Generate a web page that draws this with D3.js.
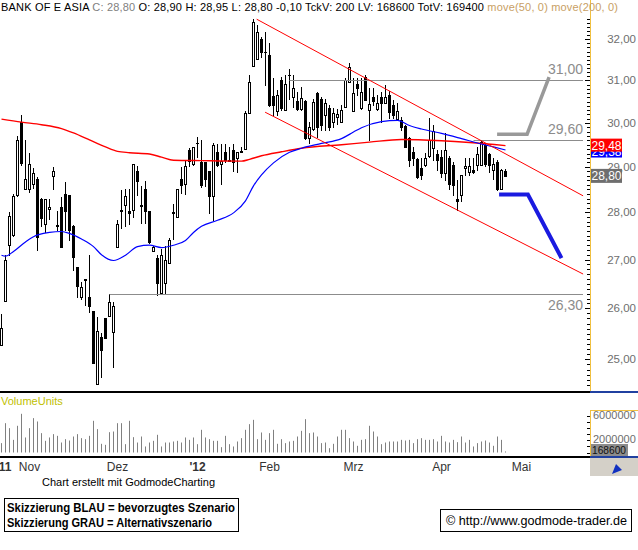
<!DOCTYPE html>
<html><head><meta charset="utf-8">
<script src="https://cdn.jsdelivr.net/npm/d3@7"></script>
<style>
body{margin:0;background:#fff}
svg{display:block}
text{font-family:"Liberation Sans",Arial,sans-serif}
</style>
</head><body>
<svg id="c" width="638" height="550"></svg>
<script>
// ---------------- DATA ----------------
const opens  = [25.28,26.16,27.31,27.51,28.37,30.02,28.52,28.52,28.63,28.74,28.30,27.76,28.07,28.80,27.72,28.11,28.40,28.37,27.70,26.85,
                26.24,26.59,26.23,25.95,24.52,25.43,25.81,25.84,25.53,27.27,28.03,28.17,28.04,28.05,28.91,28.15,28.51,28.02,27.17,27.04,
                26.32,26.51,26.92,28.00,27.91,28.74,28.63,29.39,29.06,29.55,29.12,29.12,28.90,28.36,29.33,29.06,29.33,29.16,29.39,29.20,
                29.36,29.41,30.23,31.35,31.52,32.00,31.70,31.61,30.63,30.28,31.01,30.31,31.13,30.61,30.52,30.32,30.52,29.66,29.87,30.69,
                30.56,30.19,30.35,30.03,30.14,30.03,30.38,30.97,30.28,30.91,30.35,31.08,30.30,30.60,30.32,30.60,30.47,30.65,30.42,30.10,
                30.07,29.93,29.65,29.33,29.18,28.97,29.05,29.24,29.42,29.28,29.23,28.87,29.20,29.05,28.29,28.38,28.97,28.88,28.93,29.05,
                29.05,29.50,29.28,28.93,29.12,28.50,28.90];
const highs  = [25.88,27.10,28.01,28.39,29.70,30.18,29.61,29.31,28.97,28.77,28.31,28.30,28.30,28.99,28.03,28.34,28.67,28.37,27.72,26.85,
                26.53,26.59,27.10,25.95,25.83,25.51,25.81,26.30,26.12,27.83,28.49,28.51,28.51,29.06,29.02,28.58,28.69,28.02,27.29,27.10,
                27.21,27.29,27.45,28.18,28.50,28.99,29.16,29.42,29.46,29.68,29.61,29.12,28.90,29.53,29.52,29.52,29.52,29.46,29.52,29.33,
                29.45,30.27,31.13,32.50,32.36,32.06,32.19,31.91,31.06,30.78,31.09,31.13,31.27,31.14,30.73,30.84,30.54,30.02,30.56,30.73,
                30.61,30.56,30.42,30.34,30.33,30.42,31.05,31.41,31.05,31.05,31.05,31.14,30.83,30.83,30.65,30.72,30.88,30.74,30.54,30.46,
                30.14,29.95,29.68,29.44,29.20,29.20,29.31,30.11,29.95,29.38,29.38,29.77,29.24,29.10,28.71,28.82,29.20,29.20,29.20,29.46,
                29.61,29.54,29.31,29.20,29.16,28.95,28.95];
const lows   = [25.28,26.16,27.10,27.49,28.35,29.05,28.52,28.45,28.53,27.20,27.70,27.59,27.86,28.52,27.63,27.27,27.62,27.41,26.78,26.23,
                26.20,26.06,25.93,24.93,24.52,24.67,25.41,25.84,24.86,27.27,27.66,27.70,27.76,27.90,28.38,27.77,27.77,27.35,27.17,26.28,
                26.30,26.32,26.92,27.43,27.90,28.42,28.40,29.02,29.05,29.23,28.56,28.57,27.98,27.84,29.03,28.63,29.12,29.13,28.90,28.88,
                29.33,29.40,30.22,31.35,31.52,31.57,30.89,30.40,30.19,30.18,30.30,30.30,30.57,30.38,30.30,30.30,29.63,29.53,29.84,29.67,
                29.84,29.84,29.84,29.91,29.98,30.03,30.37,30.96,30.28,30.65,30.33,30.53,29.61,30.42,30.30,30.03,30.46,30.11,30.12,30.09,
                29.84,29.45,29.02,29.05,28.76,28.74,29.01,29.23,29.16,28.93,28.77,28.71,28.52,28.38,28.05,28.25,28.81,28.81,28.86,28.93,
                29.05,29.01,28.89,28.74,28.49,28.50,28.80];
const closes = [25.62,27.00,27.92,28.36,29.61,29.08,28.74,29.06,28.86,27.47,27.87,28.30,28.11,28.90,27.70,27.27,28.02,27.62,27.06,26.46,
                26.44,26.57,26.05,24.93,25.55,25.18,25.41,26.12,26.05,27.75,28.05,28.36,27.99,29.06,28.68,28.13,28.02,27.37,27.26,26.51,
                27.09,27.00,27.40,27.99,28.50,28.59,29.03,29.13,29.45,29.53,28.59,28.72,28.36,29.50,29.05,29.14,29.16,29.13,29.12,29.33,
                29.33,30.23,30.97,32.42,32.19,31.68,31.69,30.42,30.42,30.65,30.35,30.91,31.14,30.81,30.32,30.58,29.65,29.91,30.48,29.91,
                29.95,30.47,29.91,30.23,30.21,30.30,31.01,31.32,30.69,30.83,30.72,30.54,30.45,30.51,30.47,30.46,30.60,30.25,30.19,30.27,
                29.90,29.46,29.16,29.21,28.78,28.81,29.20,29.61,29.81,29.16,28.86,29.38,28.63,28.59,28.25,28.81,29.01,29.01,28.89,29.28,
                29.56,29.06,29.05,29.06,28.52,28.93,28.80];
// volume in millions of units
const volumeMio = [1.54,4.82,4.00,2.08,4.39,6.36,2.47,4.00,5.65,5.10,3.18,1.92,2.47,3.02,2.74,1.64,2.19,1.97,2.63,3.02,
                   2.36,2.19,2.74,5.21,3.84,1.43,1.26,3.34,3.45,4.82,4.82,1.37,5.21,2.52,1.64,2.63,0.99,1.64,1.92,2.91,
                   0.99,1.64,1.64,1.81,1.92,1.64,2.47,2.08,2.47,1.37,3.73,2.47,2.19,1.92,1.92,0.88,2.74,1.37,0.99,1.81,
                   2.36,3.73,4.66,5.37,2.19,3.29,2.08,3.18,3.73,1.43,2.19,1.54,1.81,1.92,2.63,3.56,5.48,3.18,3.29,2.63,
                   1.54,1.64,0.71,1.43,2.63,3.73,3.73,2.36,1.81,1.10,2.08,2.19,4.39,3.45,2.63,1.37,1.64,1.81,1.81,1.81,
                   2.08,1.97,2.08,1.54,2.19,2.36,2.08,2.08,2.19,1.81,2.74,1.81,1.64,2.08,1.70,2.63,1.64,2.08,0.99,1.54,
                   1.81,1.97,1.64,1.10,2.63,2.08,0.17];
// moving averages (candle index, price)
const ma200Idx = [0,5,10,15,18,22,26,29,32,37,40,43,50,60,62,65,70,75,85,92,100,110,117,126];
const ma200Val = [30.09,30.02,29.96,29.87,29.77,29.61,29.45,29.35,29.32,29.29,29.22,29.15,29.14,29.13,29.17,29.25,29.34,29.42,29.50,29.56,29.62,29.59,29.55,29.48];
const ma50Idx  = [0,1,3,6,8,12,15,17,20,23,25,28,31,34,37,40,43,46,48,50,54,58,61,63,65,68,72,75,80,85,88,90,95,99,102,105,110,115,119,123,126];
const ma50Val  = [27.09,27.07,27.17,27.37,27.48,27.57,27.59,27.55,27.43,27.27,27.10,26.98,27.09,27.27,27.30,27.25,27.30,27.40,27.57,27.70,27.83,27.99,28.25,28.58,28.82,29.09,29.33,29.42,29.53,29.64,29.79,29.89,30.03,30.06,29.94,29.86,29.76,29.64,29.54,29.45,29.38];
// trend channel (start / end points: index, price)
const channelUpper = [[63.8,32.50],[145.4,28.36]];
const channelLower = [[65.9,30.25],[145.4,26.70]];
// horizontal levels: [value, start index, label]
const levels = [[31.00,72,"31,00"],[29.60,118,"29,60"],[26.30,27,"26,30"]];
// scenario sketches
const sketchGrey = [[123.9,29.74],[131.4,29.74],[136.9,31.08]];
const sketchBlue = [[124.4,28.39],[131.6,28.39],[140.0,27.03]];
// axis ticks
const priceTicks = [25,26,27,28,29,30,31,32];
const volTicks = [2000000,6000000];
const monthLabels = ["11","Nov","Dez","'12","Feb","Mrz","Apr","Mai"];
const monthIdx    = [0.9,7,29,49,67,88,110,130];
const lastVals = {ma200:29.48, ma50:29.38, close:28.80, volume:168600};

// ---------------- DRAW ----------------
const svg = d3.select('#c');
const fmt = v => d3.format('.2f')(v).replace('.', ',');
const x = d3.scaleLinear().domain([0,126]).range([1.5,505.5]);
const y = d3.scaleLog().domain([25,32]).range([359.3,39.3]);
const yv = d3.scaleLinear().domain([0,6]).range([452.5,416]);

svg.append('defs').append('clipPath').attr('id','mc')
  .append('rect').attr('x',0).attr('y',13).attr('width',589).attr('height',378);

const g = svg.append('g').attr('clip-path','url(#mc)');

// candles
d3.range(opens.length).forEach(i=>{
  const cx = x(i);
  g.append('line').attr('x1',cx).attr('x2',cx)
    .attr('y1',Math.round(y(highs[i]))).attr('y2',Math.round(y(lows[i]))+1)
    .attr('stroke','#000').attr('stroke-width',1);
  const t = Math.round(Math.min(y(opens[i]),y(closes[i])))+0.5;
  const b = Math.round(Math.max(y(opens[i]),y(closes[i])))+0.5;
  g.append('rect').attr('x',cx-1).attr('y',t).attr('width',2).attr('height',Math.max(b-t,0.01))
    .attr('fill', closes[i]>=opens[i] ? '#fff' : '#000').attr('stroke','#000').attr('stroke-width',1);
});

// horizontal levels
levels.forEach(([v,s,lab])=>{
  g.append('line').attr('x1',x(s)).attr('x2',583).attr('y1',Math.round(y(v))+0.5).attr('y2',Math.round(y(v))+0.5)
    .attr('stroke','#8c8c8c').attr('stroke-width',1);
  const below = v < 27;
  svg.append('text').attr('x',583).attr('y', below ? y(v)+16 : y(v)-6)
    .attr('text-anchor','end').attr('font-size',14).attr('fill','#8c8c8c').text(lab);
});

// moving averages
const line = d3.line().x(d=>x(d[0])).y(d=>y(d[1])).curve(d3.curveMonotoneX);
g.append('path').attr('d',line(ma200Idx.map((d,k)=>[d,ma200Val[k]])))
  .attr('fill','none').attr('stroke','#ff0000').attr('stroke-width',1.4);
g.append('path').attr('d',line(ma50Idx.map((d,k)=>[d,ma50Val[k]])))
  .attr('fill','none').attr('stroke','#0000ff').attr('stroke-width',1.2);

// channel
[channelUpper,channelLower].forEach(c=>{
  g.append('line').attr('x1',x(c[0][0])).attr('y1',y(c[0][1])).attr('x2',x(c[1][0])).attr('y2',y(c[1][1]))
    .attr('stroke','#ff0000').attr('stroke-width',1);
});

// sketches
const sl = d3.line().x(d=>x(d[0])).y(d=>y(d[1]));
g.append('path').attr('d',sl(sketchGrey)).attr('fill','none').attr('stroke','#999').attr('stroke-width',3.5);
g.append('path').attr('d',sl(sketchBlue)).attr('fill','none').attr('stroke','#1a1ae0').attr('stroke-width',4);

// right price axis
const ax = 590.5;
svg.append('line').attr('x1',ax).attr('x2',ax).attr('y1',0).attr('y2',391).attr('stroke','#f0c040').attr('stroke-width',1);
d3.range(24.4,32.55,0.1).forEach(v=>{
  const yy = Math.round(y(v))+0.5;
  if (yy<14||yy>389) return;
  const major = Math.abs(v-Math.round(v))<0.01;
  svg.append('line').attr('x1', major?585:587).attr('x2',590).attr('y1',yy).attr('y2',yy).attr('stroke','#000');
});
priceTicks.forEach(v=>{
  svg.append('text').attr('x',636).attr('y',y(v)+4).attr('text-anchor','end')
    .attr('font-size',11.5).attr('fill','#6e6e6e').text(fmt(v));
});
// value tags (blue one sits behind the red one, as in the original)
function tag(v,bg,fg,h,dy){
  const yy = y(v)+(dy||0);
  svg.append('rect').attr('x',591).attr('y',yy-h/2).attr('width',31).attr('height',h).attr('fill',bg);
  svg.append('text').attr('x',606.5).attr('y',yy+4.5).attr('text-anchor','middle').attr('font-size',12).attr('fill',fg).text(fmt(v));
}
tag(lastVals.ma50,'#0000ff','#fff',13,1);
tag(lastVals.ma200,'#ff0000','#fff',13,-0.5);
tag(lastVals.close,'#6e6e6e','#fff',14,0);

// panel separators
svg.append('rect').attr('x',0).attr('y',391).attr('width',590).attr('height',2).attr('fill','#000');
svg.append('rect').attr('x',590).attr('y',391).attr('width',48).attr('height',2).attr('fill','#2040a0');
svg.append('rect').attr('x',0).attr('y',456).attr('width',590).attr('height',2).attr('fill','#000');
svg.append('rect').attr('x',590).attr('y',456).attr('width',48).attr('height',2).attr('fill','#2040a0');

// volume
svg.append('text').attr('x',1).attr('y',405).attr('font-size',11).attr('fill','#c0c000').text('VolumeUnits');
volumeMio.forEach((v,i)=>{
  svg.append('line').attr('x1',x(i)).attr('x2',x(i)).attr('y1',yv(v)).attr('y2',yv(0))
    .attr('stroke','#808080').attr('stroke-width',1);
});
svg.append('line').attr('x1',ax).attr('x2',ax).attr('y1',410).attr('y2',456).attr('stroke','#f0c040');
svg.append('line').attr('x1',590).attr('x2',638).attr('y1',410.5).attr('y2',410.5).attr('stroke','#f0c040');
d3.range(0,7).forEach(v=>{
  const yy = Math.round(yv(v))+0.5;
  svg.append('line').attr('x1',587).attr('x2',590).attr('y1',yy).attr('y2',yy).attr('stroke','#000');
});
volTicks.forEach(v=>{
  svg.append('text').attr('x',593).attr('y',yv(v/1e6)+3).attr('font-size',11).attr('fill','#6e6e6e').text(v);
});
svg.append('rect').attr('x',591).attr('y',444).attr('width',37).attr('height',12).attr('fill','#8c8c8c');
svg.append('text').attr('x',592).attr('y',454).attr('font-size',10.5).attr('textLength',34).attr('lengthAdjust','spacingAndGlyphs')
  .attr('fill','#111').text(lastVals.volume);

// time axis labels
monthLabels.forEach((l,k)=>{
  svg.append('text').attr('x',x(monthIdx[k])).attr('y',471).attr('text-anchor','middle')
    .attr('font-size',12).attr('font-weight', (l.length===2||l[0]==="'")?'bold':'normal')
    .attr('fill','#333').text(l);
});
// corner icon
svg.append('rect').attr('x',590).attr('y',458).attr('width',48).attr('height',18).attr('fill','#d4d0c8');
svg.append('path').attr('d','M612,474 L616,464 L622,470 Z').attr('fill','#1030c0');

// header
const hdr = svg.append('text').attr('x',1).attr('y',11).attr('font-size',11).attr('fill','#000')
  .attr('textLength',617).attr('lengthAdjust','spacing');
hdr.append('tspan').text('BANK OF E ASIA ');
hdr.append('tspan').attr('fill','#808080').text('C: 28,80');
hdr.append('tspan').text(' O: 28,90 H: 28,95 L: 28,80 -0,10 TckV: 200 LV: 168600 TotV: 169400 ');
hdr.append('tspan').attr('fill','#c8a064').text('move(50, 0) move(200, 0)');

// footer
svg.append('text').attr('x',42).attr('y',486).attr('font-size',11).attr('fill','#000').text('Chart erstellt mit GodmodeCharting');
svg.append('rect').attr('x',4.5).attr('y',498.5).attr('width',234).attr('height',33).attr('fill','none').attr('stroke','#000');
svg.append('text').attr('x',7).attr('y',512).attr('font-size',12).attr('font-weight','bold').attr('textLength',228).attr('lengthAdjust','spacingAndGlyphs').text('Skizzierung BLAU = bevorzugtes Szenario');
svg.append('text').attr('x',7).attr('y',527).attr('font-size',12).attr('font-weight','bold').attr('textLength',205).attr('lengthAdjust','spacingAndGlyphs').text('Skizzierung GRAU = Alternativszenario');
svg.append('rect').attr('x',440.5).attr('y',509.5).attr('width',191).attr('height',22).attr('fill','none').attr('stroke','#000');
svg.append('text').attr('x',446).attr('y',525).attr('font-size',12).attr('textLength',181).attr('lengthAdjust','spacingAndGlyphs').text('\u00A9 http://www.godmode-trader.de');
</script>
</body></html>
